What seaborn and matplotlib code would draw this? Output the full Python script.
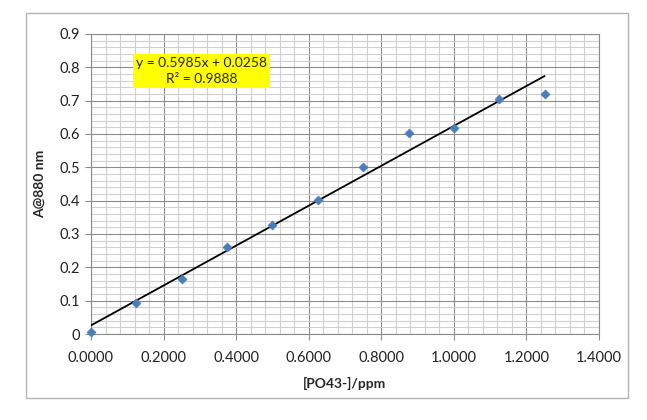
import matplotlib
matplotlib.use("Agg")
import matplotlib.pyplot as plt
from matplotlib.patches import Rectangle
from matplotlib.ticker import MultipleLocator, FormatStrFormatter
import numpy as np
import pandas as pd
import seaborn as sns

# ---------- DATA ----------
conc_ppm = [0.0, 0.125, 0.25, 0.375, 0.5, 0.625, 0.75, 0.875, 1.0, 1.125, 1.25]
absorbance = [0.006, 0.093, 0.165, 0.261, 0.327, 0.402, 0.500, 0.602, 0.617, 0.704, 0.721]
slope = 0.5985
intercept = 0.0258
r_squared = 0.9888

df = pd.DataFrame({"conc": conc_ppm, "A": absorbance})

sns.set_style("white")
plt.rcParams["font.family"] = ["Lato", "DejaVu Sans"]

fig = plt.figure(figsize=(6.47, 4.2), dpi=100)
ax = fig.add_axes([91 / 647, 1 - 334 / 420, (599 - 91) / 647, (334 - 34) / 420])

# chart area border
fig.patches.append(Rectangle((26 / 647, 1 - 398 / 420), (628 - 26) / 647, (398 - 13) / 420,
                             transform=fig.transFigure, fill=False, edgecolor="#b4b4b4", lw=1))

# ---------- GRID ----------
ax.xaxis.set_major_locator(MultipleLocator(0.2))
ax.xaxis.set_minor_locator(MultipleLocator(0.04))
ax.yaxis.set_major_locator(MultipleLocator(0.1))
ax.yaxis.set_minor_locator(MultipleLocator(0.02))
ax.grid(which="minor", color="#d0d0d0", lw=0.8)
ax.grid(which="major", color="#8c8c8c", lw=0.8)
ax.set_axisbelow(True)

# ---------- TRENDLINE + POINTS ----------
xs = np.array([min(conc_ppm), max(conc_ppm)])
ax.plot(xs, slope * xs + intercept, color="black", lw=1.3, zorder=3)
sns.scatterplot(data=df, x="conc", y="A", marker="D", s=22, color="#4a7ebb",
                edgecolor="#4a7ebb", ax=ax, zorder=4, clip_on=False)

ax.set_xlim(0, 1.4)
ax.set_ylim(0, 0.9)
ax.xaxis.set_major_formatter(FormatStrFormatter("%.4f"))
ax.yaxis.set_major_formatter(lambda v, p: "0" if v == 0 else f"{v:.1f}")

for s in ax.spines.values():
    s.set_color("#8c8c8c")
    s.set_linewidth(0.8)
ax.tick_params(which="major", direction="out", length=4, color="#8c8c8c",
               labelsize=10.5, labelcolor="#222222", pad=8)
ax.tick_params(axis="y", which="major", pad=4)
ax.tick_params(which="minor", length=0)
ax.tick_params(left=True, bottom=True)

ax.set_xlabel("[PO43-]/ppm", fontsize=10, fontweight="bold", labelpad=9)
ax.set_ylabel("A@880 nm", fontsize=10, fontweight="bold", labelpad=10)

# ---------- EQUATION BOX ----------
ax.text(0.304, 0.789, f"y = {slope}x + {intercept}\nR\u00b2 = {r_squared}",
        ha="center", va="center", fontsize=10, linespacing=1.45, zorder=5,
        bbox=dict(boxstyle="square,pad=0.22", facecolor="#ffff00", edgecolor="none"))

fig.savefig("out.png", dpi=100)
